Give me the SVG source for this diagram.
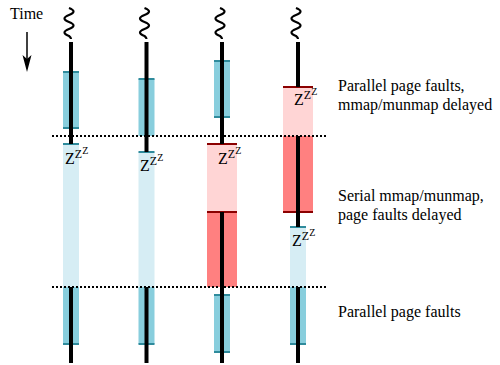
<svg xmlns="http://www.w3.org/2000/svg" width="500" height="365" viewBox="0 0 500 365">
<style>
.lbl{font-family:"Liberation Serif","Times New Roman",serif;font-size:16px;fill:#000}
.zz{font-family:"Liberation Serif","Times New Roman",serif;fill:#000;font-size:16px}
.s1{font-size:12px}
.s2{font-size:10px}
.run{fill:#88cedd}
.sleep{fill:#d6edf4}
.wait{fill:#ffd5d5}
.ser{fill:#ff8080}
.te{stroke:#2f8b9c;stroke-width:2}
.re{stroke:#8b0000;stroke-width:2}
.thr{stroke:#000;stroke-width:4}
.sq{fill:none;stroke:#000;stroke-width:2.2}
.dot{stroke:#000;stroke-width:2;stroke-dasharray:2 2}
</style>
<defs>
<path id="squig" d="M-2,8 q9,3.5 0,7 t0,7 t0,7 t0,7 q2,1.5 2,3"/>
</defs>

<g id="time">
<text class="lbl" x="10" y="19">Time</text>
<line x1="27" y1="32" x2="27" y2="62" stroke="#000" stroke-width="1.5"/>
<polygon points="22.5,55 27,72 31.5,55 27,59" fill="#000"/>
</g>

<g id="thread1">
<use href="#squig" x="71" class="sq"/>
<rect class="run" x="63" y="72" width="16" height="56"/>
<line class="te" x1="63" y1="72" x2="79" y2="72"/>
<line class="te" x1="63" y1="128" x2="79" y2="128"/>
<rect class="sleep" x="63" y="144" width="16" height="143"/>
<line class="te" x1="63" y1="144" x2="79" y2="144"/>
<rect class="run" x="63" y="287" width="16" height="57"/>
<line class="te" x1="63" y1="344" x2="79" y2="344"/>
<line class="thr" x1="71" y1="42" x2="71" y2="144"/>
<line class="thr" x1="71" y1="287" x2="71" y2="363"/>
<text class="zz" x="65" y="164">Z<tspan class="s1" dy="-6">Z</tspan><tspan class="s2" dy="-4">Z</tspan></text>
</g>

<g id="thread2">
<use href="#squig" x="146.5" class="sq"/>
<rect class="run" x="138.5" y="79" width="16" height="57"/>
<line class="te" x1="138.5" y1="79" x2="154.5" y2="79"/>
<rect class="sleep" x="138.5" y="152" width="16" height="135"/>
<line class="te" x1="138.5" y1="152" x2="154.5" y2="152"/>
<rect class="run" x="138.5" y="287" width="16" height="57"/>
<line class="te" x1="138.5" y1="344" x2="154.5" y2="344"/>
<line class="thr" x1="146.5" y1="42" x2="146.5" y2="152"/>
<line class="thr" x1="146.5" y1="287" x2="146.5" y2="363"/>
<text class="zz" x="140" y="171">Z<tspan class="s1" dy="-6">Z</tspan><tspan class="s2" dy="-4">Z</tspan></text>
</g>

<g id="thread3">
<use href="#squig" x="222" class="sq"/>
<rect class="run" x="214" y="61" width="16" height="56"/>
<line class="te" x1="214" y1="61" x2="230" y2="61"/>
<line class="te" x1="214" y1="117" x2="230" y2="117"/>
<rect class="wait" x="207" y="144" width="30" height="68"/>
<rect class="ser" x="207" y="212" width="30" height="75"/>
<line class="re" x1="207" y1="144" x2="237" y2="144"/>
<line class="re" x1="207" y1="212" x2="237" y2="212"/>
<rect class="run" x="214" y="295" width="16" height="57"/>
<line class="te" x1="214" y1="295" x2="230" y2="295"/>
<line class="te" x1="214" y1="352" x2="230" y2="352"/>
<line class="thr" x1="222" y1="42" x2="222" y2="144"/>
<line class="thr" x1="222" y1="212" x2="222" y2="363"/>
<text class="zz" x="218" y="164">Z<tspan class="s1" dy="-6">Z</tspan><tspan class="s2" dy="-4">Z</tspan></text>
</g>

<g id="thread4">
<use href="#squig" x="298" class="sq"/>
<rect class="wait" x="283" y="87" width="30" height="49"/>
<rect class="ser" x="283" y="136" width="30" height="76"/>
<line class="re" x1="283" y1="87" x2="313" y2="87"/>
<line class="re" x1="283" y1="212" x2="313" y2="212"/>
<rect class="sleep" x="290" y="227" width="16" height="60"/>
<line class="te" x1="290" y1="227" x2="306" y2="227"/>
<rect class="run" x="290" y="287" width="16" height="57"/>
<line class="te" x1="290" y1="344" x2="306" y2="344"/>
<line class="thr" x1="298" y1="42" x2="298" y2="87"/>
<line class="thr" x1="298" y1="136" x2="298" y2="227"/>
<line class="thr" x1="298" y1="287" x2="298" y2="363"/>
<text class="zz" x="294" y="105">Z<tspan class="s1" dy="-6">Z</tspan><tspan class="s2" dy="-4">Z</tspan></text>
<text class="zz" x="292" y="246">Z<tspan class="s1" dy="-6">Z</tspan><tspan class="s2" dy="-4">Z</tspan></text>
</g>

<g id="connectors">
<line class="dot" x1="52" y1="136" x2="328" y2="136"/>
<line class="dot" x1="52" y1="287" x2="328" y2="287"/>
</g>

<g id="labels">
<text class="lbl" x="338" y="91">Parallel page faults,</text>
<text class="lbl" x="338" y="110">mmap/munmap delayed</text>
<text class="lbl" x="338" y="201">Serial mmap/munmap,</text>
<text class="lbl" x="338" y="220">page faults delayed</text>
<text class="lbl" x="338" y="317">Parallel page faults</text>
</g>
</svg>
